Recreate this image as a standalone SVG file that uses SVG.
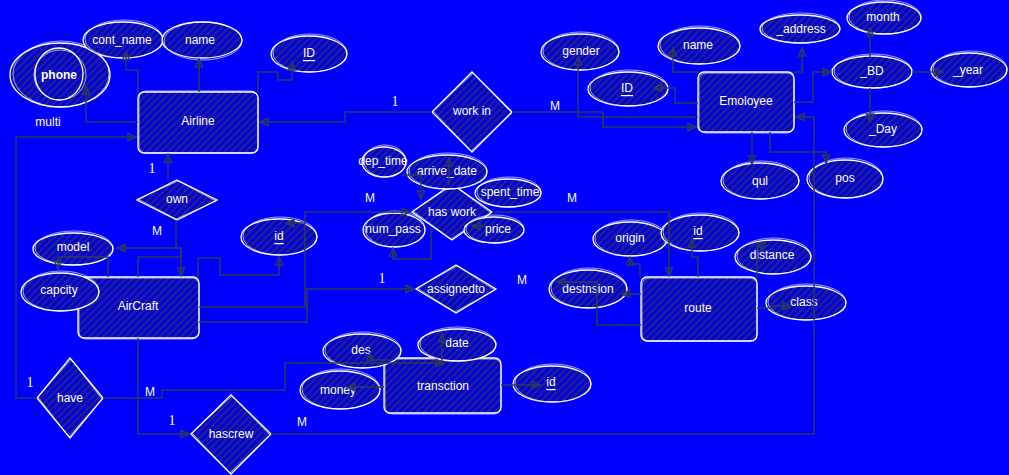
<svg xmlns="http://www.w3.org/2000/svg" width="1009" height="475" viewBox="0 0 1009 475">
<defs>
<pattern id="h" width="5" height="5" patternUnits="userSpaceOnUse" patternTransform="rotate(45)">
<rect width="5" height="5" fill="#0404d2"/>
<line x1="1" y1="0" x2="1" y2="5" stroke="#26268c" stroke-width="1.7"/>
</pattern>
<marker id="ah" viewBox="0 0 10 10" refX="9" refY="5" markerWidth="10" markerHeight="10" markerUnits="userSpaceOnUse" orient="auto">
<path d="M1,1.5 L9,5 L1,8.5 Z" fill="none" stroke="#2e3a5c" stroke-width="1.5"/>
</marker>
<style>
.s{fill:url(#h);stroke:#fff;stroke-width:1.3}
.k{fill:none;stroke:#fff;stroke-width:0.9;opacity:0.7}
.t{font-family:"Liberation Sans",Arial,sans-serif;font-size:12px;fill:#fff;text-anchor:middle;dominant-baseline:central}
.u{text-decoration:underline}
.b{font-weight:bold}
.one{font-family:"Liberation Serif","Times New Roman",serif;font-size:14px;fill:#fff;text-anchor:middle;dominant-baseline:central}
.m{font-family:"Liberation Sans",Arial,sans-serif;font-size:12px;fill:#fff;text-anchor:middle;dominant-baseline:central}
.c{fill:none;stroke:#2e3a5c;stroke-width:1.5;marker-end:url(#ah)}
</style>
</defs>
<rect width="1009" height="475" fill="#0000ff"/>

<!-- entities -->
<g id="airline"><rect class="s" x="138" y="92" width="120" height="61" rx="6"/><rect class="k" x="139" y="91" width="119" height="62" rx="7"/><text class="t" x="198" y="121">Airline</text></g>
<g id="aircraft"><rect class="s" x="78" y="277" width="121" height="61" rx="6"/><rect class="k" x="79" y="278" width="120" height="61" rx="7"/><text class="t" x="138" y="306">AirCraft</text></g>
<g id="employee"><rect class="s" x="698" y="72" width="96" height="60" rx="6"/><rect class="k" x="699" y="73" width="95" height="60" rx="7"/><text class="t" x="746" y="101">Emoloyee</text></g>
<g id="route"><rect class="s" x="641" y="277" width="116" height="64" rx="6"/><rect class="k" x="642" y="278" width="115" height="63" rx="7"/><text class="t" x="698" y="308">route</text></g>
<g id="transction"><rect class="s" x="384" y="358" width="117" height="55" rx="6"/><rect class="k" x="385" y="359" width="116" height="55" rx="7"/><text class="t" x="443" y="386">transction</text></g>

<!-- relationships -->
<g id="workin"><polygon class="s" points="472,72 512,112 472,152 432,112"/><polygon class="k" points="473,73 512,113 471,151 433,111"/><text class="t" x="472" y="111">work in</text></g>
<g id="own"><polygon class="s" points="177,180 217,200 177,220 137,200"/><polygon class="k" points="178,181 216,201 176,219 138,199"/><text class="t" x="177" y="199">own</text></g>
<g id="haswork"><polygon class="s" points="452,184 492,212 452,240 412,212"/><polygon class="k" points="453,185 491,213 451,239 413,211"/><text class="t" x="452" y="212">has work</text></g>
<g id="assignedto"><polygon class="s" points="456,265 496,289 456,313 416,289"/><polygon class="k" points="457,266 495,290 455,312 417,288"/><text class="t" x="456" y="289">assignedto</text></g>
<g id="have"><polygon class="s" points="70,358 103,398 70,438 37,398"/><polygon class="k" points="71,359 102,399 69,437 38,397"/><text class="t" x="70" y="398">have</text></g>
<g id="hascrew"><polygon class="s" points="231,395 271,434 231,474 191,434"/><polygon class="k" points="232,396 270,435 230,473 192,433"/><text class="t" x="231" y="434">hascrew</text></g>

<!-- attributes -->
<g id="phone"><ellipse class="s" cx="60" cy="75" rx="50" ry="32"/><ellipse class="k" cx="61" cy="74" rx="48" ry="33"/><ellipse class="k" cx="59" cy="74" rx="24" ry="26" style="stroke-width:1.3;opacity:1"/><ellipse class="k" cx="60" cy="75" rx="26" ry="25"/><text class="t b" x="59" y="75">phone</text></g>
<g id="multi"><text class="t" x="48" y="122">multi</text></g>
<g id="cont_name"><ellipse class="s" cx="123" cy="40" rx="40" ry="18"/><ellipse class="k" cx="124" cy="39" rx="39" ry="19"/><text class="t" x="122" y="40">cont_name</text></g>
<g id="airline_name"><ellipse class="s" cx="202" cy="40" rx="40" ry="18"/><ellipse class="k" cx="203" cy="41" rx="39" ry="19"/><text class="t" x="200" y="40">name</text></g>
<g id="airline_id"><ellipse class="s" cx="309" cy="54" rx="38" ry="18"/><ellipse class="k" cx="310" cy="53" rx="37" ry="19"/><text class="t u" x="309" y="53">ID</text></g>
<g id="gender"><ellipse class="s" cx="580" cy="52" rx="39" ry="18"/><ellipse class="k" cx="581" cy="51" rx="38" ry="19"/><text class="t" x="581" y="51">gender</text></g>
<g id="emp_name"><ellipse class="s" cx="699" cy="46" rx="41" ry="18"/><ellipse class="k" cx="700" cy="45" rx="40" ry="19"/><text class="t" x="698" y="45">name</text></g>
<g id="emp_id"><ellipse class="s" cx="628" cy="89" rx="40" ry="17"/><ellipse class="k" cx="629" cy="88" rx="39" ry="18"/><text class="t u" x="627" y="88">ID</text></g>
<g id="address"><ellipse class="s" cx="800" cy="29" rx="40" ry="14"/><ellipse class="k" cx="801" cy="28" rx="39" ry="15"/><text class="t" x="801" y="29">_address</text></g>
<g id="month"><ellipse class="s" cx="884" cy="18" rx="37" ry="16"/><ellipse class="k" cx="885" cy="17" rx="36" ry="17"/><text class="t" x="883" y="17">month</text></g>
<g id="bd"><ellipse class="s" cx="872" cy="72" rx="40" ry="16"/><ellipse class="k" cx="873" cy="71" rx="39" ry="17"/><text class="t" x="872" y="71">_BD</text></g>
<g id="year"><ellipse class="s" cx="969" cy="70" rx="38" ry="17"/><ellipse class="k" cx="970" cy="69" rx="37" ry="18"/><text class="t" x="968" y="70">_year</text></g>
<g id="day"><ellipse class="s" cx="883" cy="130" rx="39" ry="17"/><ellipse class="k" cx="884" cy="129" rx="38" ry="18"/><text class="t" x="883" y="129">_Day</text></g>
<g id="qul"><ellipse class="s" cx="760" cy="181" rx="39" ry="18"/><ellipse class="k" cx="761" cy="180" rx="38" ry="19"/><text class="t" x="760" y="181">qul</text></g>
<g id="pos"><ellipse class="s" cx="845" cy="179" rx="38" ry="19"/><ellipse class="k" cx="846" cy="178" rx="37" ry="20"/><text class="t" x="845" y="178">pos</text></g>
<g id="model"><ellipse class="s" cx="73" cy="249" rx="40" ry="16"/><ellipse class="k" cx="74" cy="248" rx="39" ry="17"/><text class="t" x="73" y="247">model</text></g>
<g id="capcity"><ellipse class="s" cx="60" cy="292" rx="39" ry="19"/><ellipse class="k" cx="61" cy="291" rx="38" ry="20"/><text class="t" x="59" y="290">capcity</text></g>
<g id="aircraft_id"><ellipse class="s" cx="279" cy="237" rx="38" ry="18"/><ellipse class="k" cx="280" cy="236" rx="37" ry="19"/><text class="t u" x="279" y="236">id</text></g>
<g id="dep_time"><ellipse class="s" cx="384" cy="162" rx="22" ry="15"/><ellipse class="k" cx="385" cy="161" rx="21" ry="16"/><text class="t" x="383" y="161">dep_time</text></g>
<g id="arrive_date"><ellipse class="s" cx="447" cy="172" rx="40" ry="17"/><ellipse class="k" cx="448" cy="171" rx="39" ry="18"/><text class="t" x="447" y="171">arrive_date</text></g>
<g id="spent_time"><ellipse class="s" cx="508" cy="193" rx="33" ry="14"/><ellipse class="k" cx="509" cy="192" rx="32" ry="15"/><text class="t" x="510" y="192">spent_time</text></g>
<g id="num_pass"><ellipse class="s" cx="394" cy="230" rx="31" ry="17"/><ellipse class="k" cx="395" cy="229" rx="30" ry="18"/><text class="t" x="393" y="229">num_pass</text></g>
<g id="price"><ellipse class="s" cx="494" cy="230" rx="30" ry="13"/><ellipse class="k" cx="495" cy="229" rx="29" ry="14"/><text class="t" x="498" y="229">price</text></g>
<g id="origin"><ellipse class="s" cx="630" cy="239" rx="37" ry="17"/><ellipse class="k" cx="631" cy="238" rx="36" ry="18"/><text class="t" x="630" y="238">origin</text></g>
<g id="route_id"><ellipse class="s" cx="700" cy="233" rx="39" ry="18"/><ellipse class="k" cx="701" cy="232" rx="38" ry="19"/><text class="t u" x="698" y="231">id</text></g>
<g id="distance"><ellipse class="s" cx="773" cy="257" rx="38" ry="17"/><ellipse class="k" cx="774" cy="256" rx="37" ry="18"/><text class="t" x="772" y="255">distance</text></g>
<g id="destnsion"><ellipse class="s" cx="588" cy="289" rx="39" ry="19"/><ellipse class="k" cx="589" cy="288" rx="38" ry="20"/><text class="t" x="588" y="289">destnsion</text></g>
<g id="class"><ellipse class="s" cx="806" cy="303" rx="40" ry="17"/><ellipse class="k" cx="807" cy="302" rx="39" ry="18"/><text class="t" x="804" y="302">class</text></g>
<g id="des"><ellipse class="s" cx="362" cy="351" rx="39" ry="17"/><ellipse class="k" cx="363" cy="350" rx="38" ry="18"/><text class="t" x="361" y="350">des</text></g>
<g id="date"><ellipse class="s" cx="457" cy="345" rx="39" ry="16"/><ellipse class="k" cx="458" cy="344" rx="38" ry="17"/><text class="t" x="457" y="343">date</text></g>
<g id="money"><ellipse class="s" cx="340" cy="390" rx="40" ry="19"/><ellipse class="k" cx="341" cy="389" rx="39" ry="20"/><text class="t" x="338" y="390">money</text></g>
<g id="trans_id"><ellipse class="s" cx="552" cy="384" rx="39" ry="18"/><ellipse class="k" cx="553" cy="383" rx="38" ry="19"/><text class="t u" x="551" y="382">id</text></g>

<!-- connectors -->
<g id="connectors">
<path class="c" d="M138,92 V70 H126 V52"/>
<path class="c" d="M199,92 V59"/>
<path class="c" d="M258,92 V72 H278 V80 H292 V62"/>
<path class="c" d="M138,122 H86 V86"/>
<path class="c" d="M432,112 H345 V122 H260"/>
<path class="c" d="M512,112 H603 V127 H696"/>
<path class="c" d="M698,117 H578 V57"/>
<path class="c" d="M700,72 H673 V48"/>
<path class="c" d="M794,72 H802 V48"/>
<path class="c" d="M698,103 H675 V88 H654"/>
<path class="c" d="M794,102 H813 V72 H831"/>
<path class="c" d="M870,57 V28"/>
<path class="c" d="M912,72 H943"/>
<path class="c" d="M870,88 V122"/>
<path class="c" d="M752,132 V164"/>
<path class="c" d="M770,132 V152 H826 V163"/>
<path class="c" d="M271,434 H814 V117 H796"/>
<path class="c" d="M37,398 H16 V137 H136"/>
<path class="c" d="M168,180 V154"/>
<path class="c" d="M176,220 V248 H181 V276"/>
<path class="c" d="M138,277 V257 H181 V248 H117"/>
<path class="c" d="M108,277 V257 H58 V269"/>
<path class="c" d="M198,277 V258 H220 V275 H279 V257"/>
<path class="c" d="M199,307 H305 V212 H410"/>
<path class="c" d="M305,223 H286"/>
<path class="c" d="M199,322 H307 V289 H414"/>
<path class="c" d="M492,212 H669 V276"/>
<path class="c" d="M402,175 H421 V199"/>
<path class="c" d="M449,185 V158"/>
<path class="c" d="M431,228 V259 H393 V248"/>
<path class="c" d="M486,226 H472"/>
<path class="c" d="M640,277 V264 H630 V257"/>
<path class="c" d="M698,277 V257 H692 V239"/>
<path class="c" d="M757,278 V243 H762 V251"/>
<path class="c" d="M641,294 H622"/>
<path class="c" d="M641,325 H597 V282 H557"/>
<path class="c" d="M757,308 H773 V306 H791"/>
<path class="c" d="M103,398 H162 V390 H285 V363 H444"/>
<path class="c" d="M442,363 V334"/>
<path class="c" d="M390,360 H370 V353"/>
<path class="c" d="M384,387 H347"/>
<path class="c" d="M501,385 H540"/>
<path class="c" d="M138,338 V434 H189"/>
</g>

<!-- cardinality labels -->
<g id="labels">
<text class="one" x="395" y="101">1</text>
<text class="m" x="555" y="106">M</text>
<text class="one" x="152" y="168">1</text>
<text class="m" x="157" y="231">M</text>
<text class="m" x="370" y="198">M</text>
<text class="m" x="572" y="198">M</text>
<text class="one" x="382" y="278">1</text>
<text class="m" x="522" y="280">M</text>
<text class="one" x="30" y="382">1</text>
<text class="m" x="150" y="392">M</text>
<text class="one" x="172" y="420">1</text>
<text class="m" x="302" y="422">M</text>
</g>
</svg>
